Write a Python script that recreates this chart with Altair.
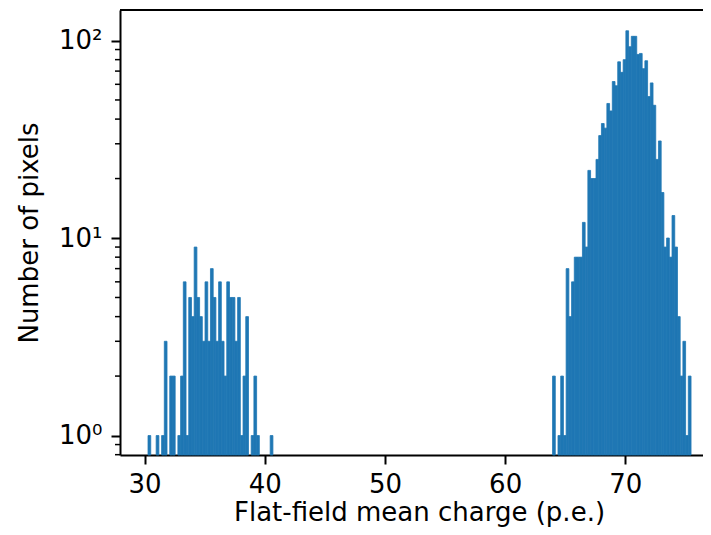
import altair as alt
import pandas as pd

# Histogram: 200 equal bins starting at x_min
x_min = 30.291
bin_w = 0.22587

left_first_bin = 0
left_counts = [1, 0, 0, 1, 0, 1, 3, 0, 2, 2,
               0, 1, 2, 6, 1, 5, 4, 9, 5, 4,
               3, 6, 3, 7, 5, 3, 6, 3, 2, 6,
               5, 5, 3, 5, 1, 2, 4, 0, 1, 2,
               1, 0, 0, 0, 0, 1]

right_first_bin = 149
right_counts = [2, 0, 1, 2, 1, 7, 4, 6, 8, 8,
                8, 12, 9, 22, 20, 20, 25, 33, 38, 36,
                48, 44, 62, 59, 78, 69, 80, 112, 93, 105,
                105, 85, 86, 72, 79, 52, 61, 47, 25, 31,
                17, 9, 10, 8, 13, 9, 4, 2, 3, 1, 2]

x_ticks = [30, 40, 50, 60, 70]
y_major = [1, 10, 100]
y_minor = [0.8, 0.9, 2, 3, 4, 5, 6, 7, 8, 9, 20, 30, 40, 50, 60, 70, 80, 90]

rows = []
for first, counts in ((left_first_bin, left_counts), (right_first_bin, right_counts)):
    for i, c in enumerate(counts):
        if c > 0:
            b = first + i
            rows.append({"x0": x_min + b * bin_w, "x1": x_min + (b + 1) * bin_w, "n": c})
df = pd.DataFrame(rows)

W, H = 583, 445
FONT = "DejaVu Sans"
FS = 26

xscale = alt.Scale(domain=[27.96, 76.46], nice=False, zero=False)
yscale = alt.Scale(type="log", domain=[0.797, 142.7], nice=False)

x_axis = alt.Axis(
    title="Flat-field mean charge (p.e.)", values=x_ticks, format="d",
    labelFont=FONT, labelFontSize=FS, labelColor="black",
    titleFont=FONT, titleFontSize=FS, titleFontWeight="normal", titleColor="black",
    tickColor="black", tickSize=9, tickWidth=2,
    domainColor="black", domainWidth=2, labelPadding=7,
    grid=False, labelFlush=False, labelOverlap=False,
    titleX=299, titleY=65, titleBaseline="alphabetic", titleAlign="center",
)

y_axis = alt.Axis(
    title="Number of pixels", values=y_major,
    labelExpr="datum.value == 1 ? '10⁰' : (datum.value == 10 ? '10¹' : '10²')",
    labelFont=FONT, labelFontSize=FS, labelColor="black",
    titleFont=FONT, titleFontSize=FS, titleFontWeight="normal", titleColor="black",
    tickColor="black", tickSize=9, tickWidth=2,
    domainColor="black", domainWidth=2, labelPadding=9,
    grid=False, labelOverlap=False,
    titleX=-83, titleY=H / 2, titleBaseline="alphabetic", titleAlign="center", titleAngle=270,
)

bars = alt.Chart(df).mark_bar(color="#1f77b4", stroke="#1f77b4", strokeWidth=0.8).encode(
    x=alt.X("x0:Q", scale=xscale, axis=x_axis),
    x2="x1:Q",
    y=alt.Y("n:Q", scale=yscale, axis=y_axis),
    y2=alt.value(H),
)

minor = alt.Chart(pd.DataFrame({"v": y_minor})).mark_rule(
    color="black", strokeWidth=1.5, clip=False
).encode(
    y=alt.Y("v:Q", scale=yscale, axis=y_axis),
    x=alt.value(0),
    x2=alt.value(-5),
)

top_line = alt.Chart(pd.DataFrame({"a": [0]})).mark_rule(
    color="black", strokeWidth=2
).encode(x=alt.value(0), x2=alt.value(W), y=alt.value(0))

chart = alt.layer(bars, minor, top_line).properties(
    width=W, height=H,
    padding={"left": 112, "top": 2, "right": 0, "bottom": 72},
    autosize=alt.AutoSizeParams(type="none"),
).configure_view(stroke=None)

chart.save("out.html", embed_options={"renderer": "svg", "actions": False})
